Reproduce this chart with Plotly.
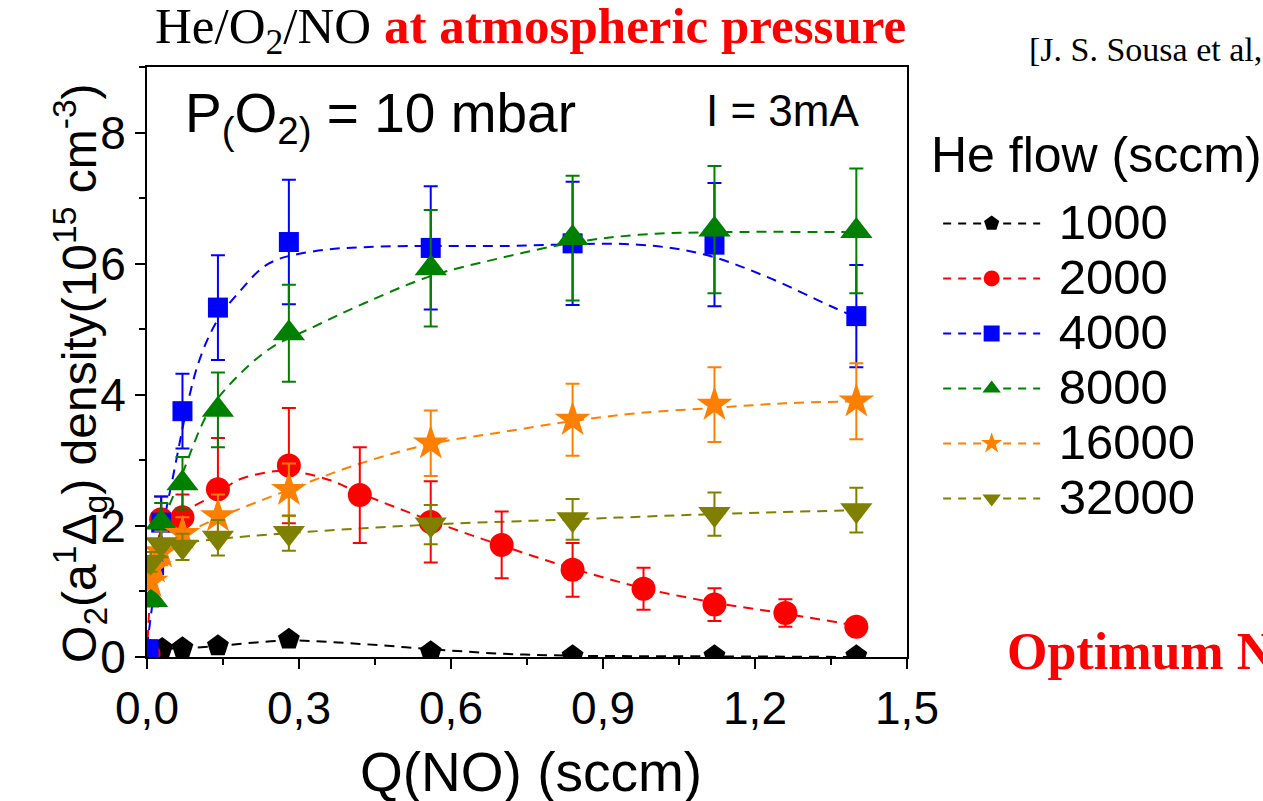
import plotly.graph_objects as go

# ---------------- data ----------------
series_names = ["1000", "2000", "4000", "8000", "16000", "32000"]
colors = ["#000000", "#FF0000", "#0000FF", "#008000", "#FF8000", "#808000"]
symbols = ["pentagon", "circle", "square", "triangle-up", "star", "triangle-down"]
sizes = [23, 24, 20, 28, 27, 28]

x_1000 = [0.007, 0.03, 0.07, 0.14, 0.28, 0.56, 0.84, 1.12, 1.40]
y_1000 = [0.10, 0.13, 0.14, 0.17, 0.27, 0.08, 0.02, 0.02, 0.02]
e_1000 = [0, 0, 0, 0, 0, 0, 0, 0, 0]

x_2000 = [0.003, 0.028, 0.07, 0.14, 0.28, 0.42, 0.56, 0.70, 0.84, 0.98, 1.12, 1.26, 1.40]
y_2000 = [0.05, 2.10, 2.13, 2.56, 2.92, 2.47, 2.06, 1.71, 1.33, 1.04, 0.80, 0.67, 0.46]
e_2000 = [0.05, 0.35, 0.35, 0.78, 0.88, 0.73, 0.62, 0.51, 0.41, 0.32, 0.25, 0.21, 0.08]

x_4000 = [0.003, 0.014, 0.028, 0.07, 0.14, 0.28, 0.56, 0.84, 1.12, 1.40]
y_4000 = [0.12, 1.40, 2.05, 3.75, 5.33, 6.33, 6.24, 6.31, 6.29, 5.20]
e_4000 = [0.05, 0.20, 0.40, 0.57, 0.80, 0.95, 0.94, 0.94, 0.94, 0.78]

x_8000 = [0.01, 0.028, 0.07, 0.14, 0.28, 0.56, 0.84, 1.12, 1.40]
y_8000 = [0.87, 2.05, 2.65, 3.77, 4.94, 5.93, 6.39, 6.52, 6.50]
e_8000 = [0.10, 0.30, 0.40, 0.57, 0.74, 0.89, 0.95, 0.97, 0.95]

x_16000 = [0.007, 0.014, 0.028, 0.07, 0.14, 0.28, 0.56, 0.84, 1.12, 1.40]
y_16000 = [1.15, 1.37, 1.60, 1.88, 2.15, 2.55, 3.26, 3.62, 3.85, 3.90]
e_16000 = [0.10, 0.15, 0.20, 0.25, 0.33, 0.40, 0.50, 0.55, 0.57, 0.58]

x_32000 = [0.007, 0.028, 0.07, 0.14, 0.28, 0.56, 0.84, 1.12, 1.40]
y_32000 = [1.45, 1.72, 1.68, 1.82, 1.89, 2.02, 2.10, 2.18, 2.24]
e_32000 = [0.15, 0.20, 0.20, 0.27, 0.27, 0.30, 0.31, 0.33, 0.34]

# dashed guide curves
fx_1000 = [0, 0.03, 0.07, 0.14, 0.28, 0.42, 0.56, 0.70, 0.84, 1.12, 1.40]
fy_1000 = [0.10, 0.13, 0.13, 0.17, 0.25, 0.20, 0.12, 0.05, 0.02, 0.01, 0.0]

fx_2000 = [0, 0.01, 0.03, 0.07, 0.14, 0.18, 0.24, 0.28, 0.36, 0.42, 0.56, 0.70, 0.84, 0.98, 1.12, 1.26, 1.40]
fy_2000 = [0, 1.20, 1.95, 2.20, 2.50, 2.70, 2.82, 2.84, 2.70, 2.50, 2.08, 1.70, 1.35, 1.05, 0.83, 0.66, 0.48]

fx_4000 = [0, 0.03, 0.05, 0.10, 0.14, 0.18, 0.24, 0.33, 0.46, 0.70, 0.97, 1.10, 1.22, 1.35, 1.40]
fy_4000 = [0.15, 1.90, 2.70, 4.45, 5.15, 5.55, 6.00, 6.19, 6.26, 6.27, 6.29, 6.14, 5.81, 5.35, 5.18]

fx_8000 = [0, 0.03, 0.065, 0.12, 0.16, 0.24, 0.33, 0.43, 0.56, 0.70, 0.84, 0.97, 1.12, 1.40]
fy_8000 = [0.80, 2.00, 2.70, 3.72, 4.13, 4.69, 5.04, 5.40, 5.81, 6.09, 6.32, 6.44, 6.48, 6.48]

fx_16000 = [0, 0.01, 0.03, 0.07, 0.14, 0.28, 0.42, 0.56, 0.70, 0.84, 0.97, 1.12, 1.26, 1.40]
fy_16000 = [1.05, 1.30, 1.60, 1.85, 2.12, 2.55, 2.95, 3.25, 3.43, 3.60, 3.72, 3.80, 3.87, 3.90]

fx_32000 = [0, 0.02, 0.07, 0.14, 0.28, 0.56, 0.84, 1.12, 1.40]
fy_32000 = [1.45, 1.68, 1.74, 1.80, 1.89, 2.02, 2.10, 2.18, 2.24]

x_ticks = [0.0, 0.3, 0.6, 0.9, 1.2, 1.5]
y_ticks = [0, 2, 4, 6, 8]

data_x = [x_1000, x_2000, x_4000, x_8000, x_16000, x_32000]
data_y = [y_1000, y_2000, y_4000, y_8000, y_16000, y_32000]
data_e = [e_1000, e_2000, e_4000, e_8000, e_16000, e_32000]
fit_x = [fx_1000, fx_2000, fx_4000, fx_8000, fx_16000, fx_32000]
fit_y = [fy_1000, fy_2000, fy_4000, fy_8000, fy_16000, fy_32000]

SANS = "Liberation Sans, Arial, sans-serif"
SERIF = "Liberation Serif, Times New Roman, serif"
DASH = "10px,7px"

fig = go.Figure()

# fitted dashed curves
for i in range(6):
    fig.add_trace(go.Scatter(
        x=fit_x[i], y=fit_y[i], mode="lines",
        line=dict(color=colors[i], width=2, dash=DASH, shape="spline", smoothing=1.0),
        showlegend=False, hoverinfo="skip"))

# data points with error bars
for i in range(6):
    fig.add_trace(go.Scatter(
        x=data_x[i], y=data_y[i], mode="markers",
        marker=dict(symbol=symbols[i], size=sizes[i], color=colors[i], line=dict(width=0)),
        error_y=dict(type="data", array=data_e[i], visible=True, color=colors[i],
                     thickness=2, width=7),
        showlegend=False, name=series_names[i]))

# legend entries
for i in range(6):
    fig.add_trace(go.Scatter(
        x=[None], y=[None], mode="lines+markers",
        name="<span style='font-size:49px'>\u00a0" + series_names[i] + "</span>",
        marker=dict(symbol=symbols[i], size=sizes[i], color=colors[i]),
        line=dict(color=colors[i], width=2, dash="8px,7px"),
        showlegend=True))

axis_common = dict(showline=True, linewidth=2, linecolor="black", mirror=True,
                   ticks="outside", ticklen=10, tickwidth=2, tickcolor="black",
                   showgrid=False, zeroline=False,
                   tickfont=dict(family=SANS, size=46, color="black"))

fig.update_layout(
    width=1263, height=801,
    margin=dict(l=147, r=356, t=67, b=144, autoexpand=False),
    paper_bgcolor="white", plot_bgcolor="white",
    separators=", ",
    xaxis=dict(range=[0, 1.5], tickvals=x_ticks, tickformat=".1f",
               minor=dict(ticks="outside", dtick=0.15, tick0=0, ticklen=6, tickwidth=2, tickcolor="black"),
               **axis_common),
    yaxis=dict(range=[0, 9], tickvals=y_ticks, tickformat="d",
               minor=dict(ticks="outside", dtick=1, tick0=0, ticklen=6, tickwidth=2, tickcolor="black"),
               **axis_common),
    xaxis2=dict(overlaying="x", side="top", anchor="y", range=[0, 1.5], dtick=0.15, tick0=0,
                ticks="inside", ticklen=7, tickwidth=2, tickcolor="black",
                showticklabels=False, showgrid=False, zeroline=False, showline=False),
    yaxis2=dict(overlaying="y", side="right", anchor="x", range=[0, 9], dtick=1, tick0=0,
                ticks="inside", ticklen=7, tickwidth=2, tickcolor="black",
                showticklabels=False, showgrid=False, zeroline=False, showline=False),
    legend=dict(x=1.041, xanchor="left", y=0.79, yanchor="top",
                font=dict(family=SANS, size=40, color="black"),
                itemwidth=97, bgcolor="rgba(0,0,0,0)", borderwidth=0),
    showlegend=True,
)

annotations = [
    dict(text="He/O<sub>2</sub>/NO <b><span style='color:#FF0000'>at atmospheric pressure</span></b>",
         x=0.504, y=1.062, xref="paper", yref="paper", xanchor="center", yanchor="middle",
         showarrow=False, font=dict(family=SERIF, size=51, color="black")),
    dict(text="[J. S. Sousa et al,", x=1.158, y=1.03, xref="paper", yref="paper",
         xanchor="left", yanchor="middle", showarrow=False,
         font=dict(family=SERIF, size=34, color="black")),
    dict(text="<b>Optimum N</b>", x=1.129, y=0.01, xref="paper", yref="paper",
         xanchor="left", yanchor="middle", showarrow=False,
         font=dict(family=SERIF, size=52, color="#FF0000")),
    dict(text="He flow (sccm)", x=1.029, y=0.851, xref="paper", yref="paper",
         xanchor="left", yanchor="middle", showarrow=False,
         font=dict(family=SANS, size=50, color="black")),
    dict(text="P<sub>(</sub>O<sub>2</sub><sub>)</sub> = 10 mbar", x=0.047, y=0.915,
         xref="paper", yref="paper", xanchor="left", yanchor="middle", showarrow=False,
         font=dict(family=SANS, size=55, color="black")),
    dict(text="I = 3mA", x=0.733, y=0.927, xref="paper", yref="paper",
         xanchor="left", yanchor="middle", showarrow=False,
         font=dict(family=SANS, size=44, color="black")),
    dict(text="Q(NO) (sccm)", x=0.505, y=-0.195, xref="paper", yref="paper",
         xanchor="center", yanchor="middle", showarrow=False,
         font=dict(family=SANS, size=55, color="black")),
    dict(text="O<sub>2</sub>(a<sup>1</sup>Δ<sub>g</sub>) density(10<sup>15</sup> cm<sup>-3</sup>)",
         x=-0.088, y=0.48, xref="paper", yref="paper", xanchor="center", yanchor="middle",
         textangle=-90, showarrow=False,
         font=dict(family=SANS, size=48, color="black")),
]
fig.update_layout(annotations=annotations)

fig.write_html("out.html")
